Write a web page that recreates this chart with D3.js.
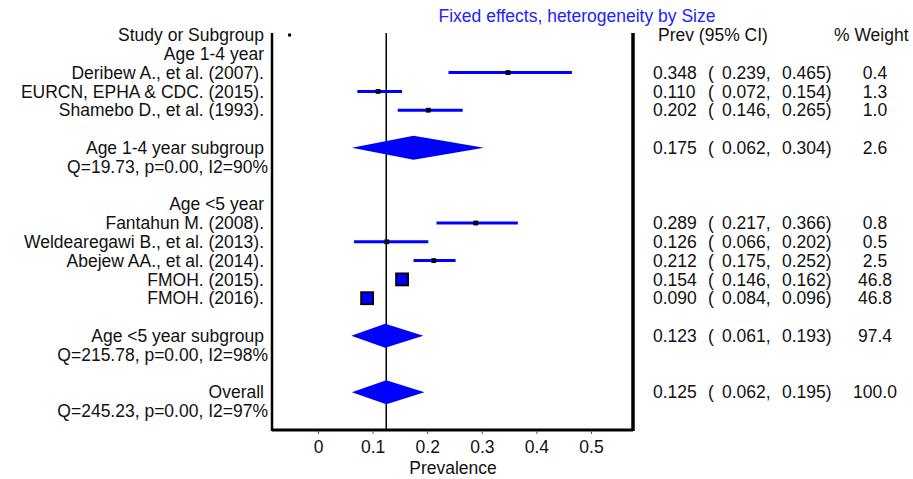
<!DOCTYPE html>
<html>
<head>
<meta charset="utf-8">
<script src="https://cdn.jsdelivr.net/npm/d3@7"></script>
<style>
  body { margin: 0; background: #fff; }
  text { font-family: "Liberation Sans", Arial, sans-serif; font-size: 17.5px; fill: #111; }
</style>
</head>
<body>
<div id="chart"></div>
<script>
// chart data
var groupNames = ["Age 1-4 year", "Age <5 year"];
var studyNames = ["Deribew A., et al. (2007).", "EURCN, EPHA & CDC. (2015).", "Shamebo D., et al. (1993).",
  "Fantahun M. (2008).", "Weldearegawi B., et al. (2013).", "Abejew AA., et al. (2014).", "FMOH. (2015).", "FMOH. (2016)."];
var studyGroup = [0, 0, 0, 1, 1, 1, 1, 1];
var studyPrev = [0.348, 0.110, 0.202, 0.289, 0.126, 0.212, 0.154, 0.090];
var studyLower = [0.239, 0.072, 0.146, 0.217, 0.066, 0.175, 0.146, 0.084];
var studyUpper = [0.465, 0.154, 0.265, 0.366, 0.202, 0.252, 0.162, 0.096];
var studyWeight = [0.4, 1.3, 1.0, 0.8, 0.5, 2.5, 46.8, 46.8];

var pooledNames = ["Age 1-4 year subgroup", "Age <5 year subgroup", "Overall"];
var pooledHet = ["Q=19.73, p=0.00, I2=90%", "Q=215.78, p=0.00, I2=98%", "Q=245.23, p=0.00, I2=97%"];
var pooledPrev = [0.175, 0.123, 0.125];
var pooledLower = [0.062, 0.061, 0.062];
var pooledUpper = [0.304, 0.193, 0.195];
var pooledWeight = [2.6, 97.4, 100.0];

var xTicks = [0, 0.1, 0.2, 0.3, 0.4, 0.5];

var width = 913, height = 479;

var svg = d3.select("#chart").append("svg")
  .attr("width", width)
  .attr("height", height);

// build the row layout: header, then each group, then overall
var rows = [];
rows.push({ type: "header" });
groupNames.forEach(function (g, gi) {
  rows.push({ type: "group", label: g });
  studyNames.forEach(function (n, i) {
    if (studyGroup[i] == gi) rows.push({ type: "study", i: i });
  });
  rows.push({ type: "blank" });
  rows.push({ type: "pooled", i: gi });
  rows.push({ type: "het", i: gi });
  rows.push({ type: "blank" });
});
rows.push({ type: "pooled", i: 2 });
rows.push({ type: "het", i: 2 });
rows.forEach(function (r, k) { r.k = k; });

var plotLeft = 272, plotRight = 633, plotTop = 33, plotBottom = 430;

var x = d3.scaleLinear().domain([0, 0.5]).range([318, 591]);
var y = d3.scaleLinear().domain([0, rows.length - 1]).range([35, 411]);
var side = d3.scaleSqrt().domain([0, 46.8]).range([0, 12]);

var fmt = d3.format(".3f");
var fmtW = d3.format(".1f");

// title
svg.append("text")
  .attr("x", 577).attr("y", 22)
  .attr("text-anchor", "middle")
  .style("fill", "#2222ff")
  .text("Fixed effects, heterogeneity by Size");

// column headers
svg.append("text").attr("x", 264).attr("y", y(0)).attr("dy", "0.35em")
  .attr("text-anchor", "end").text("Study or Subgroup");
svg.append("text").attr("x", 658).attr("y", y(0)).attr("dy", "0.35em").text("Prev (95% CI)");
svg.append("text").attr("x", 834).attr("y", y(0)).attr("dy", "0.35em").text("% Weight");

// small marker near the header row
svg.append("rect")
  .attr("x", x(-0.052) - 1.5).attr("y", y(0) - 1.5)
  .attr("width", 3).attr("height", 3)
  .style("fill", "#000");

// reference line at overall estimate
svg.append("line")
  .attr("x1", x(pooledPrev[2])).attr("x2", x(pooledPrev[2]))
  .attr("y1", plotTop).attr("y2", plotBottom)
  .style("stroke", "#000").style("stroke-width", 1.5);

// frame
svg.append("line").attr("x1", plotLeft).attr("x2", plotLeft).attr("y1", plotTop).attr("y2", plotBottom + 1)
  .style("stroke", "#000").style("stroke-width", 2.5);
svg.append("line").attr("x1", plotRight).attr("x2", plotRight).attr("y1", plotTop).attr("y2", plotBottom + 1)
  .style("stroke", "#000").style("stroke-width", 3.5);
svg.append("line").attr("x1", plotLeft).attr("x2", plotRight).attr("y1", plotBottom).attr("y2", plotBottom)
  .style("stroke", "#000").style("stroke-width", 3);

// x axis
var axis = svg.append("g")
  .attr("transform", "translate(0," + (plotBottom + 1) + ")")
  .call(d3.axisBottom(x).tickValues(xTicks).tickFormat(d3.format("")).tickSize(3).tickPadding(7));
axis.select(".domain").remove();
axis.selectAll("line").style("stroke", "#555");
axis.selectAll("text").style("font-family", "Liberation Sans, Arial, sans-serif").style("font-size", "17.5px").style("fill", "#111");

svg.append("text")
  .attr("x", 453).attr("y", 474)
  .attr("text-anchor", "middle")
  .text("Prevalence");

// left labels
rows.forEach(function (r) {
  var label = null, ax = 264;
  if (r.type == "group") label = r.label;
  if (r.type == "study") label = studyNames[r.i];
  if (r.type == "pooled") label = pooledNames[r.i];
  if (r.type == "het") { label = pooledHet[r.i]; ax = 268; }
  if (label) {
    svg.append("text").attr("x", ax).attr("y", y(r.k)).attr("dy", "0.35em")
      .attr("text-anchor", "end").text(label);
  }
});

// numeric columns
function numbers(k, est, lo, hi, w) {
  var yy = y(k);
  svg.append("text").attr("x", 653).attr("y", yy).attr("dy", "0.35em").text(fmt(est));
  svg.append("text").attr("x", 708).attr("y", yy).attr("dy", "0.35em").text("(");
  svg.append("text").attr("x", 722).attr("y", yy).attr("dy", "0.35em").text(fmt(lo) + ",");
  svg.append("text").attr("x", 782).attr("y", yy).attr("dy", "0.35em").text(fmt(hi) + ")");
  svg.append("text").attr("x", 875).attr("y", yy).attr("dy", "0.35em")
    .attr("text-anchor", "middle").text(fmtW(w));
}

var studyRows = rows.filter(function (r) { return r.type == "study"; });
var pooledRows = rows.filter(function (r) { return r.type == "pooled"; });

studyRows.forEach(function (r) {
  numbers(r.k, studyPrev[r.i], studyLower[r.i], studyUpper[r.i], studyWeight[r.i]);
});
pooledRows.forEach(function (r) {
  numbers(r.k, pooledPrev[r.i], pooledLower[r.i], pooledUpper[r.i], pooledWeight[r.i]);
});

// confidence intervals
svg.append("g").selectAll("line")
  .data(studyRows)
  .enter().append("line")
    .attr("x1", function (r) { return x(studyLower[r.i]); })
    .attr("x2", function (r) { return x(studyUpper[r.i]); })
    .attr("y1", function (r) { return y(r.k); })
    .attr("y2", function (r) { return y(r.k); })
    .style("stroke", "#0000ff")
    .style("stroke-width", function (r) { return Math.max(3, side(studyWeight[r.i])); });

// study squares sized by weight
svg.append("g").selectAll("rect")
  .data(studyRows)
  .enter().append("rect")
    .attr("x", function (r) { return x(studyPrev[r.i]) - Math.max(3, side(studyWeight[r.i])) / 2; })
    .attr("y", function (r) { return y(r.k) - Math.max(3, side(studyWeight[r.i])) / 2; })
    .attr("width", function (r) { return Math.max(3, side(studyWeight[r.i])); })
    .attr("height", function (r) { return Math.max(3, side(studyWeight[r.i])); })
    .style("fill", "#0000ff")
    .style("stroke", "#000")
    .style("stroke-width", 1.8);

// pooled diamonds
svg.append("g").selectAll("path")
  .data(pooledRows)
  .enter().append("path")
    .attr("d", function (r) {
      var yy = y(r.k), h = 12;
      return "M" + x(pooledLower[r.i]) + "," + yy +
        "L" + x(pooledPrev[r.i]) + "," + (yy - h) +
        "L" + x(pooledUpper[r.i]) + "," + yy +
        "L" + x(pooledPrev[r.i]) + "," + (yy + h) + "Z";
    })
    .style("fill", "#0000ff");
</script>
</body>
</html>
